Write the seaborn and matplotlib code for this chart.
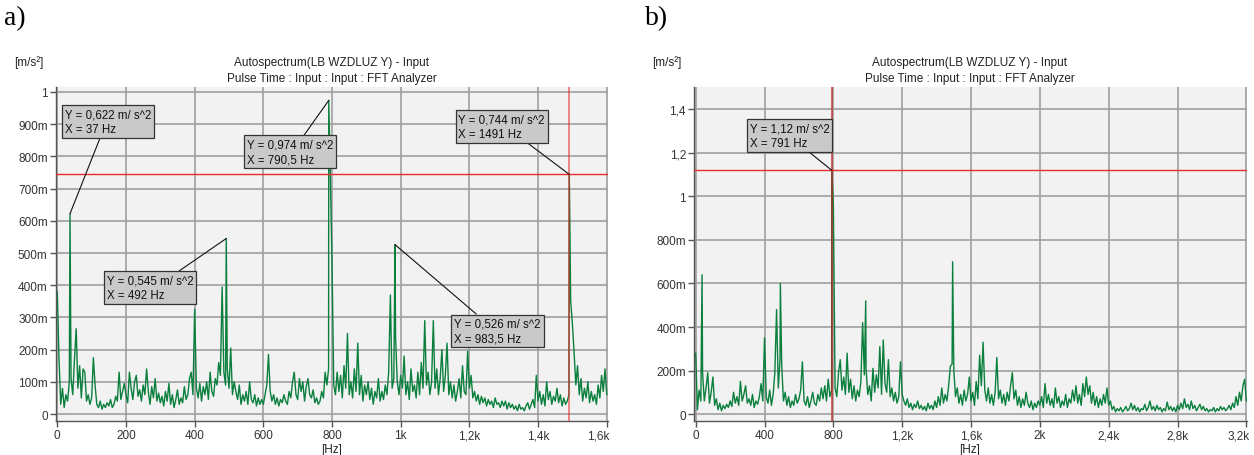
"""
Autospectrum (LB WZDLUZ Y): two FFT panels a) and b)
"""
import matplotlib
matplotlib.use('Agg')
import numpy as np
import pandas as pd
import matplotlib.pyplot as plt
import matplotlib.transforms as mtransforms
import seaborn as sns

# ---------------------------------------------------------------------------
# Data (amplitudes in mm/s^2, i.e. 'm' units)
# ---------------------------------------------------------------------------
# panel a): 5 Hz step, 0..1600 Hz
step_a = 5
spec_a = [
    380, 170, 30, 80, 20, 60, 40, 100, 110, 60, 170, 265, 80, 150, 50, 140, 130, 40, 60, 30,
    50, 175, 90, 30, 20, 40, 15, 30, 20, 35, 25, 45, 20, 30, 55, 40, 130, 45, 70, 95,
    60, 35, 130, 80, 45, 100, 120, 55, 75, 40, 90, 60, 140, 70, 30, 85, 50, 110, 40, 65,
    35, 55, 25, 70, 40, 95, 30, 60, 20, 45, 75, 30, 50, 35, 85, 45, 60, 110, 130, 60,
    325, 80, 50, 95, 40, 85, 60, 100, 45, 130, 70, 55, 110, 90, 160, 120, 395, 130, 90, 140,
    80, 205, 60, 100, 70, 45, 90, 30, 60, 40, 70, 30, 100, 45, 35, 60, 25, 50, 30, 45,
    30, 60, 90, 185, 70, 40, 60, 30, 50, 25, 45, 35, 60, 40, 30, 70, 50, 100, 130, 60,
    45, 110, 70, 100, 40, 85, 110, 60, 50, 75, 35, 50, 30, 40, 70, 50, 130, 90, 140, 750,
    470, 90, 60, 130, 70, 120, 50, 150, 80, 250, 60, 100, 50, 140, 70, 220, 60, 120, 40, 90,
    60, 100, 45, 80, 30, 70, 50, 110, 40, 70, 45, 90, 60, 130, 370, 80, 110, 240, 100, 60,
    120, 80, 180, 60, 100, 45, 140, 70, 90, 50, 130, 60, 160, 80, 290, 90, 130, 60, 100, 290,
    80, 140, 60, 110, 200, 70, 120, 220, 60, 100, 50, 90, 40, 70, 110, 50, 150, 70, 60, 195,
    80, 120, 50, 70, 40, 60, 30, 55, 35, 50, 25, 45, 30, 40, 20, 50, 30, 35, 20, 40,
    25, 40, 15, 35, 20, 30, 15, 25, 10, 30, 15, 20, 10, 25, 35, 15, 30, 45, 20, 120,
    40, 70, 30, 60, 25, 100, 45, 70, 30, 55, 40, 80, 35, 60, 25, 50, 30, 40, 60, 350,
    280, 190, 90, 150, 60, 110, 40, 80, 50, 100, 35, 70, 40, 60, 30, 90, 50, 120, 70, 140,
    60,
]
peaks_a_hz = [37, 492, 790.5, 983.5, 1491]
peaks_a_val = [0.622, 0.545, 0.974, 0.526, 0.744]
cursor_a = (1491, 0.744)

# panel b): 10 Hz step, 0..3200 Hz
step_b = 10
spec_b = [
    280, 20, 110, 60, 190, 60, 120, 190, 50, 100, 170, 40, 70, 20, 50, 15, 40, 25, 45, 30,
    60, 35, 100, 50, 80, 40, 150, 60, 90, 130, 50, 70, 40, 90, 30, 60, 45, 80, 140, 60,
    350, 80, 50, 110, 40, 90, 190, 480, 120, 250, 220, 60, 100, 40, 80, 30, 60, 40, 90, 50,
    70, 110, 240, 60, 40, 80, 30, 60, 100, 50, 40, 90, 60, 120, 70, 130, 60, 160, 80, 110,
    960, 120, 80, 190, 250, 110, 170, 90, 280, 100, 160, 70, 130, 60, 110, 80, 150, 420, 180, 210,
    90, 130, 60, 210, 100, 180, 120, 310, 90, 340, 140, 100, 250, 80, 120, 60, 100, 50, 80, 240,
    90, 60, 40, 70, 30, 50, 20, 45, 30, 60, 25, 40, 20, 35, 15, 50, 25, 40, 20, 60,
    30, 80, 40, 120, 50, 90, 60, 130, 220, 230, 200, 80, 120, 50, 90, 40, 110, 60, 90, 170,
    60, 100, 40, 150, 70, 270, 130, 330, 110, 60, 120, 50, 90, 40, 100, 260, 70, 110, 50, 90,
    40, 100, 60, 130, 190, 70, 110, 40, 80, 30, 70, 40, 100, 50, 30, 60, 20, 50, 30, 60,
    40, 80, 30, 140, 50, 90, 40, 70, 30, 120, 50, 80, 30, 60, 40, 90, 30, 70, 50, 110,
    60, 130, 50, 90, 40, 140, 80, 170, 90, 130, 50, 100, 40, 80, 30, 70, 40, 90, 50, 120,
    40, 60, 20, 35, 10, 25, 15, 30, 10, 20, 35, 15, 25, 50, 20, 40, 15, 30, 10, 25,
    20, 45, 15, 30, 60, 20, 35, 15, 40, 20, 30, 10, 25, 15, 55, 20, 35, 15, 30, 10,
    40, 20, 50, 25, 70, 30, 45, 20, 60, 25, 40, 15, 30, 45, 20, 35, 15, 25, 10, 20,
    15, 30, 10, 25, 15, 35, 20, 30, 15, 25, 40, 20, 50, 30, 80, 40, 100, 60, 130, 160,
    60,
]
peaks_b_hz = [37, 492, 791, 988, 1493]
peaks_b_val = [0.64, 0.60, 1.12, 0.52, 0.70]
cursor_b = (791, 1.12)

# tick labels
xticks_a = [0, 200, 400, 600, 800, 1000, 1200, 1400, 1600]
xlabels_a = ['0', '200', '400', '600', '800', '1k', '1,2k', '1,4k', '1,6k']
yticks_a = [0, 0.1, 0.2, 0.3, 0.4, 0.5, 0.6, 0.7, 0.8, 0.9, 1.0]
ylabels_a = ['0', '100m', '200m', '300m', '400m', '500m', '600m', '700m', '800m', '900m', '1']
xticks_b = [0, 400, 800, 1200, 1600, 2000, 2400, 2800, 3200]
xlabels_b = ['0', '400', '800', '1,2k', '1,6k', '2k', '2,4k', '2,8k', '3,2k']
yticks_b = [0, 0.2, 0.4, 0.6, 0.8, 1.0, 1.2, 1.4]
ylabels_b = ['0', '200m', '400m', '600m', '800m', '1', '1,2', '1,4']

# markers shown in the plots (index into peaks lists)
marks_a = [0, 1, 2, 3, 4]
marks_b = [2]

title1 = 'Autospectrum(LB WZDLUZ Y) - Input'
title2 = 'Pulse Time : Input : Input : FFT Analyzer'

# ---------------------------------------------------------------------------
sns.set_theme(style='white')
plt.rcParams['font.family'] = ['Liberation Sans', 'DejaVu Sans']

GREEN = '#0b7f3d'
RED = '#e52b2b'


def spectrum_frame(spec, step, pk_hz, pk_val):
    f = list(np.arange(len(spec)) * step) + list(pk_hz)
    a = [v / 1000 for v in spec] + list(pk_val)
    return pd.DataFrame({'f': f, 'a': a}).sort_values('f')


def fmt(v):
    return f'{v:g}'.replace('.', ',')


def style_axes(ax, xt, xl, yt, yl):
    ax.set_facecolor('#f2f2f2')
    ax.set_xticks(xt)
    ax.set_xticklabels(xl)
    ax.set_yticks(yt)
    ax.set_yticklabels(yl)
    ax.grid(True, color='#a0a0a0', lw=1.2)
    ax.set_axisbelow(True)
    for s in ['top', 'right']:
        ax.spines[s].set_visible(False)
    for s in ['left', 'bottom']:
        ax.spines[s].set_color('#555555')
        ax.spines[s].set_linewidth(1.0)
    ax.tick_params(axis='both', direction='out', length=4, width=1, color='#555555',
                   labelcolor='#333333', labelsize=8.5, pad=2, left=True, bottom=True)
    ax.set_xlabel('')
    ax.set_ylabel('')
    # last x label sits flush with the right end of the axis
    last = ax.get_xticklabels()[-1]
    last.set_ha('right')
    last.set_transform(last.get_transform() +
                       mtransforms.ScaledTranslation(3 / 100, 0, ax.figure.dpi_scale_trans))


fig = plt.figure(figsize=(12.54, 4.56), dpi=100)
ax_a = fig.add_axes([56 / 1254, 1 - 422 / 456, 552 / 1254, 334 / 456])
ax_b = fig.add_axes([694.3 / 1254, 1 - 422 / 456, 552.4 / 1254, 334 / 456])

# ---- panel a ----
df_a = spectrum_frame(spec_a, step_a, peaks_a_hz, peaks_a_val)
sns.lineplot(data=df_a, x='f', y='a', ax=ax_a, color=GREEN, lw=1.0, estimator=None)
ax_a.axhline(cursor_a[1], color=RED, lw=1.0, zorder=3)
ax_a.axvline(cursor_a[0], color=RED, lw=1.4, alpha=0.55, zorder=3)
style_axes(ax_a, xticks_a, xlabels_a, yticks_a, ylabels_a)
ax_a.set_xlim(-3.8, 1603.7)
ax_a.set_ylim(-0.0217, 1.0155)

# box top-left in data coords, and where the leader line leaves the box
boxes_a = [((22, 0.950), (0.42, 0.0)),
           ((144, 0.434), (0.78, 1.0)),
           ((551, 0.856), (0.64, 1.0)),
           ((1156, 0.300), (0.30, 1.0)),
           ((1168, 0.934), (0.76, 0.0))]

# ---- panel b ----
df_b = spectrum_frame(spec_b, step_b, peaks_b_hz, peaks_b_val)
sns.lineplot(data=df_b, x='f', y='a', ax=ax_b, color=GREEN, lw=1.0, estimator=None)
ax_b.axhline(cursor_b[1], color=RED, lw=1.0, zorder=3)
ax_b.axvline(cursor_b[0], color='#c62020', lw=1.2, alpha=0.8, zorder=3)
style_axes(ax_b, xticks_b, xlabels_b, yticks_b, ylabels_b)
ax_b.set_xlim(-8.1, 3202)
ax_b.set_ylim(-0.032, 1.503)

boxes_b = [((314, 1.342), (0.70, 0.0))]


def annotate(ax, hz, val, box):
    (bx, by), rel = box
    ax.annotate(f'Y = {fmt(val)} m/ s^2\nX = {fmt(hz)} Hz', xy=(hz, val), xytext=(bx, by),
                textcoords='data', ha='left', va='top', fontsize=8.3, color='#111111',
                linespacing=1.35, zorder=5,
                bbox=dict(boxstyle='square,pad=0.25', fc='#c9c9c9', ec='#333333', lw=0.9),
                arrowprops=dict(arrowstyle='-', color='#111111', lw=0.8, relpos=rel,
                                shrinkA=0, shrinkB=0))


for i, box in zip(marks_a, boxes_a):
    annotate(ax_a, peaks_a_hz[i], peaks_a_val[i], box)
for i, box in zip(marks_b, boxes_b):
    annotate(ax_b, peaks_b_hz[i], peaks_b_val[i], box)

# ---- titles / units ----
for cx, unit_x, letter, lx in [(332, 14, 'a)', 4), (970, 652, 'b)', 645)]:
    fig.text(cx / 1254, 1 - 63 / 456, title1, ha='center', va='center', fontsize=8.5, color='#222222')
    fig.text(cx / 1254, 1 - 79 / 456, title2, ha='center', va='center', fontsize=8.5, color='#222222')
    fig.text(unit_x / 1254, 1 - 63 / 456, '[m/s²]', ha='left', va='center', fontsize=8.5, color='#222222')
    fig.text(cx / 1254, 1 - 450 / 456, '[Hz]', ha='center', va='center', fontsize=8.5, color='#222222')
    fig.text(lx / 1254, 1 - 19 / 456, letter, ha='left', va='center', fontsize=20,
             family=['Liberation Serif', 'DejaVu Serif'], color='black')

fig.savefig('out.png', dpi=100)
